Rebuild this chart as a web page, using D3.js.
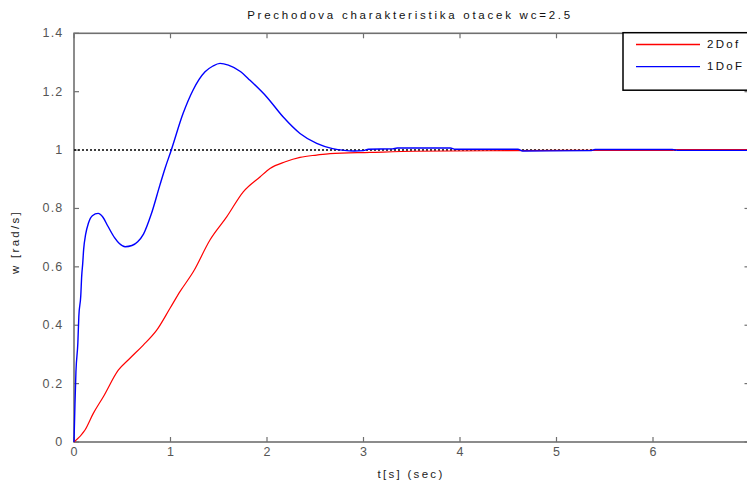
<!DOCTYPE html>
<html><head><meta charset="utf-8">
<script src="https://cdn.jsdelivr.net/npm/d3@7"></script>
<style>
html,body{margin:0;padding:0;background:#fff;overflow:hidden;}
svg{display:block;}
</style></head>
<body>
<svg id="c" width="747" height="484"></svg>
<script>
// Data
const xTicks = [0,1,2,3,4,5,6,7];
const xTickLabels = ["0","1","2","3","4","5","6",""];
const yTicks = [0,0.2,0.4,0.6,0.8,1,1.2,1.4];
const seriesNames = ["2Dof","1DoF"];
const tRed = [0,0.114,0.2,0.304,0.459,0.58,0.718,0.857,0.995,1.098,1.236,1.409,1.582,1.754,1.927,2.031,2.19,2.342,2.515,2.653,3.067,3.534,4.5,5.5,6.207,6.25,7.0];
const vRed = [0,0.041,0.098,0.155,0.246,0.287,0.332,0.383,0.458,0.515,0.583,0.692,0.771,0.857,0.908,0.937,0.96,0.975,0.983,0.988,0.992,0.996,0.998,0.999,0.999,1.002,1.002];
const tBlue = [0,0.01,0.02,0.04,0.05,0.07,0.08,0.09,0.1,0.12,0.15,0.19,0.25,0.3,0.35,0.42,0.47,0.53,0.6,0.66,0.72,0.8,0.89,0.943,1.005,1.13,1.233,1.358,1.44,1.513,1.6,1.72,1.824,1.997,2.166,2.342,2.515,2.68,2.8,2.9,3.0,3.05,3.3,3.35,3.9,3.95,4.6,4.65,5.35,5.4,6.2,6.25,7.0];
const vBlue = [0,0.13,0.24,0.34,0.43,0.50,0.57,0.61,0.66,0.71,0.75,0.775,0.783,0.77,0.74,0.70,0.68,0.669,0.673,0.686,0.712,0.78,0.88,0.937,0.997,1.125,1.205,1.268,1.288,1.297,1.291,1.27,1.239,1.182,1.114,1.057,1.023,1.005,0.999,0.997,0.998,1.003,1.004,1.007,1.007,1.003,1.003,0.997,0.998,1.002,1.002,0.999,0.999];
const refLevel = 1;

const svg = d3.select("#c");
const L=74, R=749.5, T=33.3, B=442;
const x = d3.scaleLinear().domain([0,7]).range([L,R]);
const y = d3.scaleLinear().domain([0,1.4]).range([B,T]);
const axisCol = "#707070";
const lblFont = "'Liberation Sans Narrow','Arial Narrow','Liberation Sans',Arial,sans-serif";

// axes box
const g = svg.append("g");
g.append("rect").attr("x",L).attr("y",T).attr("width",R-L).attr("height",B-T)
  .attr("fill","none").attr("stroke",axisCol).attr("stroke-width",1.6);

// ticks inward
xTicks.forEach((v,i)=>{
  g.append("line").attr("x1",x(v)).attr("x2",x(v)).attr("y1",B).attr("y2",B-5).attr("stroke",axisCol).attr("stroke-width",1.2);
  g.append("line").attr("x1",x(v)).attr("x2",x(v)).attr("y1",T).attr("y2",T+5).attr("stroke",axisCol).attr("stroke-width",1.2);
  if (xTickLabels[i]) g.append("text").attr("x",x(v)).attr("y",455.5).attr("text-anchor","middle")
    .attr("font-family",lblFont).attr("font-size",12.5).attr("fill","#555").text(xTickLabels[i]);
});
yTicks.forEach(v=>{
  g.append("line").attr("x1",L).attr("x2",L+5).attr("y1",y(v)).attr("y2",y(v)).attr("stroke",axisCol).attr("stroke-width",1.2);
  g.append("line").attr("x1",R).attr("x2",R-5).attr("y1",y(v)).attr("y2",y(v)).attr("stroke",axisCol).attr("stroke-width",1.2);
  g.append("text").attr("x",63.5).attr("y",y(v)+4).attr("text-anchor","end")
    .attr("font-family",lblFont).attr("font-size",12.5).attr("fill","#555")
    .attr("letter-spacing","1.2px").text(String(v));
});

// reference dotted line
g.append("line").attr("x1",x(0)).attr("x2",x(7)).attr("y1",y(refLevel)).attr("y2",y(refLevel))
  .attr("stroke","#000").attr("stroke-width",1.6).attr("stroke-dasharray","2,2");

// lines
const line = d3.line().x(d=>x(d[0])).y(d=>y(d[1])).curve(d3.curveMonotoneX);
const red = tRed.map((t,i)=>[t,vRed[i]]);
const blue = tBlue.map((t,i)=>[t,vBlue[i]]);
g.append("path").attr("d",line(red)).attr("fill","none").attr("stroke","#ff0000").attr("stroke-width",1.2);
g.append("path").attr("d",line(blue)).attr("fill","none").attr("stroke","#0000ff").attr("stroke-width",1.4);

// title & labels
svg.append("text").attr("x",410).attr("y",18.5).attr("text-anchor","middle")
  .attr("font-family","'Liberation Sans',Arial,sans-serif").attr("font-size",11.5).attr("fill","#111")
  .attr("letter-spacing","2.75px").text("Prechodova charakteristika otacek wc=2.5");
svg.append("text").attr("x",411).attr("y",478).attr("text-anchor","middle")
  .attr("font-family","'Liberation Sans',Arial,sans-serif").attr("font-size",11.5).attr("fill","#222")
  .attr("letter-spacing","2.3px").text("t[s] (sec)");
svg.append("text").attr("transform","translate(19,242) rotate(-90)").attr("text-anchor","middle")
  .attr("font-family","'Liberation Sans',Arial,sans-serif").attr("font-size",11.5).attr("fill","#222")
  .attr("letter-spacing","2.3px").text("w [rad/s]");

// legend
const lg = svg.append("g");
lg.append("rect").attr("x",623).attr("y",32.7).attr("width",140).attr("height",57.5)
  .attr("fill","#fff").attr("stroke","#000").attr("stroke-width",1.5);
const legCols = ["#ff0000","#0000ff"];
const legY = [44.5,66.7];
seriesNames.forEach((n,i)=>{
  lg.append("line").attr("x1",636).attr("x2",700).attr("y1",legY[i]).attr("y2",legY[i])
    .attr("stroke",legCols[i]).attr("stroke-width",1.3);
  lg.append("text").attr("x",707).attr("y",legY[i]+3.5).attr("font-family","'Liberation Sans',Arial,sans-serif")
    .attr("font-size",11.5).attr("fill","#111").attr("letter-spacing","2.3px").text(n);
});
</script>
</body></html>
